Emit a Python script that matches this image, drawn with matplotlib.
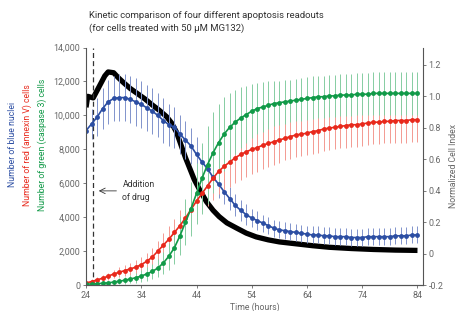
import matplotlib
matplotlib.use("Agg")
import matplotlib.pyplot as plt

plt.rcParams['font.family'] = ['Roboto', 'DejaVu Sans']

# hours 24..84, one reading per hour
hours = list(range(24, 85))

blue = [9100, 9500, 9900, 10400, 10800, 11000, 11050, 11050, 10950, 10800,
        10650, 10450, 10250, 10000, 9700, 9450, 9300, 8900, 8550, 8200,
        7700, 7250, 6850, 6350, 5950, 5500, 5100, 4700, 4400, 4150,
        3950, 3800, 3650, 3500, 3350, 3250, 3200, 3150, 3100, 3050,
        3000, 2950, 2950, 2900, 2900, 2850, 2850, 2850, 2800, 2800,
        2800, 2850, 2850, 2850, 2850, 2850, 2900, 2900, 2900, 2950, 2950]
blue_err = [700, 900, 1100, 1200, 1300, 1350, 1400, 1400, 1400, 1400,
            1400, 1350, 1350, 1300, 1300, 1250, 1200, 1150, 1100, 1050,
            1000, 950, 900, 850, 800, 750, 700, 650, 600, 600,
            550, 550, 500, 500, 500, 500, 500, 500, 500, 500,
            500, 500, 500, 500, 500, 500, 500, 500, 500, 500,
            500, 500, 500, 500, 500, 500, 500, 500, 500, 500, 500]

red = [120, 200, 300, 400, 520, 650, 750, 850, 950, 1050,
       1200, 1400, 1650, 2000, 2350, 2700, 3100, 3500, 3950, 4450,
       4950, 5400, 5850, 6300, 6700, 7000, 7250, 7500, 7700, 7850,
       8000, 8100, 8250, 8350, 8450, 8550, 8650, 8750, 8850, 8900,
       8950, 9050, 9100, 9200, 9250, 9300, 9350, 9400, 9450, 9450,
       9500, 9550, 9600, 9600, 9650, 9650, 9700, 9700, 9700, 9750, 9750]
red_err = [100, 150, 150, 200, 200, 250, 300, 300, 350, 400,
           450, 500, 550, 600, 700, 750, 800, 900, 950, 1000,
           1100, 1150, 1200, 1300, 1350, 1400, 1450, 1500, 1500, 1500,
           1450, 1450, 1400, 1400, 1350, 1350, 1300, 1300, 1300, 1300,
           1300, 1300, 1300, 1300, 1300, 1300, 1300, 1300, 1300, 1300,
           1300, 1300, 1300, 1300, 1300, 1300, 1300, 1300, 1300, 1300, 1300]

green = [50, 60, 80, 100, 130, 170, 220, 280, 350, 430,
         530, 650, 800, 1000, 1300, 1700, 2200, 2900, 3700, 4500,
         5400, 6300, 7100, 7800, 8400, 8900, 9300, 9600, 9850, 10050,
         10250, 10400, 10500, 10600, 10700, 10750, 10800, 10850, 10900, 10950,
         11000, 11050, 11100, 11100, 11150, 11150, 11200, 11200, 11200, 11250,
         11250, 11250, 11300, 11300, 11300, 11300, 11300, 11300, 11300, 11300, 11300]
green_err = [80, 80, 100, 100, 120, 150, 180, 200, 250, 300,
             350, 400, 450, 550, 650, 800, 950, 1150, 1350, 1600,
             1800, 2100, 2300, 2400, 2300, 2200, 2000, 1900, 1800, 1700,
             1600, 1500, 1450, 1400, 1350, 1300, 1300, 1250, 1250, 1250,
             1250, 1250, 1250, 1250, 1250, 1250, 1250, 1250, 1250, 1250,
             1250, 1250, 1250, 1250, 1250, 1250, 1250, 1250, 1250, 1250, 1250]

# normalized cell index (right axis)
ci_hours = [24.0, 24.3, 25.3, 26.5, 27.4, 28.0, 29.0, 29.8, 30.7, 32.0, 33.2, 34.6,
            36.0, 37.3, 38.6, 39.5, 40.4, 41.2, 42.0, 42.8, 43.6, 44.5, 45.8,
            47.0, 48.1, 49.5, 51.2, 53.0, 54.8, 57.0, 59.0, 62.0, 65.0, 68.0,
            72.0, 76.0, 80.0, 84.0]
cell_index = [0.93, 1.00, 0.99, 1.07, 1.13, 1.155, 1.15, 1.12, 1.09, 1.05, 1.02, 0.985,
              0.945, 0.91, 0.87, 0.83, 0.77, 0.69, 0.61, 0.54, 0.47, 0.41, 0.33,
              0.275, 0.235, 0.195, 0.163, 0.13, 0.106, 0.087, 0.074, 0.062, 0.05, 0.04,
              0.032, 0.026, 0.022, 0.02]

left_ticks = [0, 2000, 4000, 6000, 8000, 10000, 12000, 14000]
right_ticks = [-0.2, 0, 0.2, 0.4, 0.6, 0.8, 1.0, 1.2]
right_labels = ['-0.2', '0', '0.2', '0.4', '0.6', '0.8', '1.0', '1.2']
x_ticks = [24, 34, 44, 54, 64, 74, 84]
drug_time = 25.3

fig = plt.figure(figsize=(4.61, 3.11), dpi=100)
ax = fig.add_axes([0.1866, 0.0836, 0.731, 0.7634])
ax2 = ax.twinx()
ax.set_zorder(ax2.get_zorder() + 1)
ax.patch.set_visible(False)

gray = '#666666'
series = [(blue, blue_err, '#2c4ea3', '#8193cc'),
          (red, red_err, '#e8291c', '#f39a92'),
          (green, green_err, '#119a48', '#86cda2')]
for vals, err, c, ec in series:
    ax.errorbar(hours, vals, yerr=err, fmt='o-', color=c, ecolor=ec,
                elinewidth=0.7, capsize=1.6, capthick=0.6, markersize=3.5,
                linewidth=1.2, markeredgewidth=0)

ax2.plot(ci_hours, cell_index, color='black', linewidth=3.8,
         solid_capstyle='butt', solid_joinstyle='round')

ax.axvline(drug_time, color='#333333', linestyle=(0, (4, 2.5)), linewidth=0.9)
ax.annotate('', xy=(25.8, 5550), xytext=(30.0, 5550),
            arrowprops=dict(arrowstyle='->', color='#333333', lw=0.6))
ax.text(30.6, 5550, 'Addition\nof drug', fontsize=6.2, color='#333333',
        va='center', ha='left', linespacing=1.6)

ax.set_xlim(24, 85)
ax.set_ylim(0, 14000)
ax2.set_ylim(-0.2, 1.31)

ax.set_xticks(x_ticks)
ax.set_yticks(left_ticks)
ax.set_yticklabels(['{:,}'.format(v) for v in left_ticks])
ax2.set_yticks(right_ticks)
ax2.set_yticklabels(right_labels)

for a in (ax, ax2):
    a.spines['top'].set_visible(False)
    for s in a.spines.values():
        s.set_color('#555555')
        s.set_linewidth(0.8)
    a.tick_params(labelsize=6.4, colors=gray, length=2.5, width=0.6, direction='out', pad=1.5)
ax2.spines['left'].set_visible(False)
ax.spines['right'].set_visible(False)

ax.set_xlabel('Time (hours)', fontsize=6.2, color=gray, labelpad=2)
ax2.set_ylabel('Normalized Cell Index', fontsize=6.2, color=gray, labelpad=4)

fig.text(0.028, 0.534, 'Number of blue nuclei', rotation=90, fontsize=6.2,
         color='#2c4ea3', ha='center', va='center')
fig.text(0.060, 0.534, 'Number of red (annexin V) cells', rotation=90, fontsize=6.2,
         color='#e8291c', ha='center', va='center')
fig.text(0.091, 0.534, 'Number of green (caspase 3) cells', rotation=90, fontsize=6.2,
         color='#119a48', ha='center', va='center')

fig.text(0.193, 0.93, 'Kinetic comparison of four different apoptosis readouts\n'
         '(for cells treated with 50 \u03bcM MG132)', fontsize=6.8, color='#333333',
         ha='left', va='center', linespacing=1.5)

fig.savefig('out.png', dpi=100)
